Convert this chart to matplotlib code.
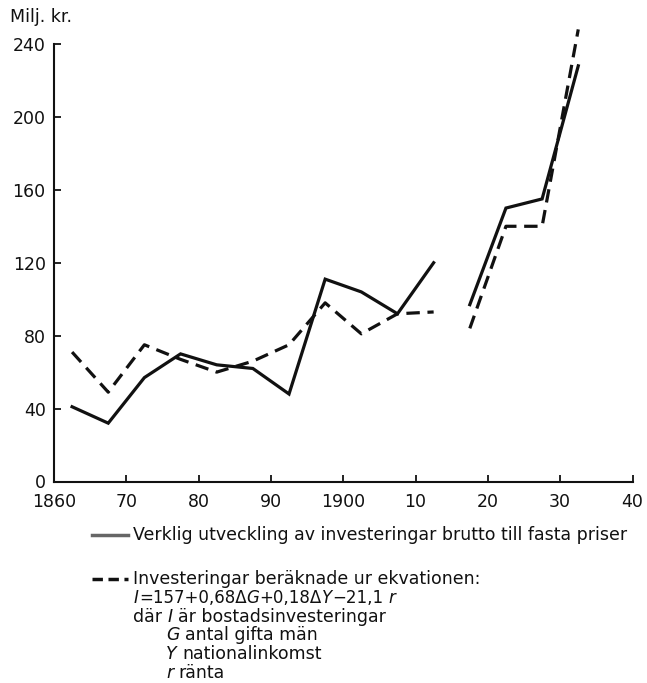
import matplotlib
matplotlib.use("Agg")
import matplotlib.pyplot as plt
from matplotlib.lines import Line2D

# ---- data ----
years_a = [1862.5, 1867.5, 1872.5, 1877.5, 1882.5, 1887.5, 1892.5, 1897.5, 1902.5, 1907.5, 1912.5]
actual_a = [41, 32, 57, 70, 64, 62, 48, 111, 104, 92, 120]
calc_a = [71, 49, 75, 67, 60, 66, 75, 98, 81, 92, 93]
years_b = [1917.5, 1922.5, 1927.5, 1932.5]
actual_b = [97, 150, 155, 228]
calc_b = [84, 140, 140, 248]

xticks = [1860, 1870, 1880, 1890, 1900, 1910, 1920, 1930, 1940]
xticklabels = ["1860", "70", "80", "90", "1900", "10", "20", "30", "40"]
yticks = [0, 40, 80, 120, 160, 200, 240]

legend_actual = "Verklig utveckling av investeringar brutto till fasta priser"
legend_head = "Investeringar beräknade ur ekvationen:"
# (text, italic, space before)
legend_eq = [("I", True, False), ("=157+0,68Δ", False, False), ("G", True, False),
             ("+0,18Δ", False, False), ("Y", True, False), ("−21,1", False, False),
             ("r", True, True)]
legend_where = [("där", False, False), ("I", True, True), ("är bostadsinvesteringar", False, True)]
legend_vars = [
    [("G", True, False), ("antal gifta män", False, True)],
    [("Y", True, False), ("nationalinkomst", False, True)],
    [("r", True, False), ("ränta", False, True)],
]

plt.rcParams['font.family'] = ['DejaVu Sans']

W, H = 647, 683
fig = plt.figure(figsize=(W / 100, H / 100), dpi=100)
x0, x1 = 54, 632.5
y0, y1 = 481.5, 25.75
ax = fig.add_axes([x0 / W, (H - y0) / H, (x1 - x0) / W, (y0 - y1) / H])

lw = 2.3
dash = (4.2, 2.4)
for xs, ys in [(years_a, actual_a), (years_b, actual_b)]:
    ax.plot(xs, ys, color='#111111', lw=lw, solid_joinstyle='miter', clip_on=False)
for xs, ys in [(years_a, calc_a), (years_b, calc_b)]:
    ax.plot(xs, ys, color='#111111', lw=lw, linestyle=(0, dash), clip_on=False)

ax.set_xlim(1860, 1940)
ax.set_ylim(0, 250)
ax.spines['top'].set_visible(False)
ax.spines['right'].set_visible(False)
ax.spines['left'].set_bounds(0, 240)
for s in ('left', 'bottom'):
    ax.spines[s].set_linewidth(1.5)
    ax.spines[s].set_color('#111111')

ax.set_xticks(xticks)
ax.set_xticklabels(xticklabels)
ax.set_yticks(yticks)
ax.tick_params(axis='both', direction='in', length=5, width=1.3, labelsize=12.5,
               colors='#111111')
ax.tick_params(axis='x', pad=8.5)
ax.tick_params(axis='y', pad=6)
ax.xaxis.get_major_ticks()[0].tick1line.set_visible(False)

fig.text(10 / W, 1 - 17 / H, "Milj. kr.", fontsize=12.5, color='#111111',
         ha='left', va='center')

# legend block
fs = 12.5
def fy(p):
    return 1 - p / H

renderer = fig.canvas.get_renderer()

def text_width(s, size, italic=False):
    t = fig.text(0, 0, s, fontsize=size, style='italic' if italic else 'normal')
    w = t.get_window_extent(renderer).width
    t.remove()
    return w

def draw_segments(x_px, base_px, segments, size):
    space = text_width("a a", size) - text_width("aa", size)
    x = x_px
    for s, italic, sp in segments:
        if sp:
            x += space
        t = fig.text(x / W, fy(base_px), s, fontsize=size, color='#111111',
                     style='italic' if italic else 'normal', va='baseline', ha='left')
        x += t.get_window_extent(renderer).width

fig.add_artist(Line2D([92 / W, 128 / W], [fy(535), fy(535)], color='#666666', lw=2.5,
                      transform=fig.transFigure))
fig.text(133 / W, fy(535), legend_actual, fontsize=fs, color='#111111', va='center', ha='left')

fig.add_artist(Line2D([92 / W, 128 / W], [fy(579), fy(579)], color='#111111', lw=2.5,
                      linestyle=(0, (3.0, 1.6)), transform=fig.transFigure))
fig.text(133 / W, fy(584), legend_head, fontsize=fs, color='#111111', va='baseline', ha='left')
draw_segments(134, 603, legend_eq, 12)
draw_segments(133, 622, legend_where, fs)
for i, segs in enumerate(legend_vars):
    draw_segments(166, 640.5 + 18.5 * i, segs, fs)

fig.savefig("out.png", dpi=100)
